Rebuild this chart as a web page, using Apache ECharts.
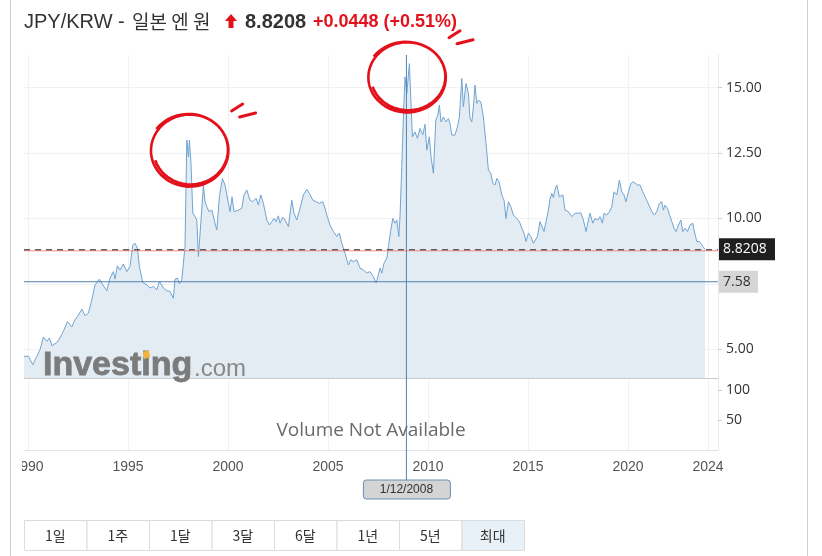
<!DOCTYPE html>
<html><head><meta charset="utf-8">
<script src="https://cdn.jsdelivr.net/npm/echarts@6/dist/echarts.min.js"></script>
<style>
html,body{margin:0;padding:0;background:#fff;width:822px;height:556px;overflow:hidden}
#frame{position:absolute;left:10px;top:0;width:798px;height:556px;border-left:1px solid #cfcfcf;border-right:1px solid #cfcfcf;box-sizing:border-box}
#chart{position:absolute;left:22px;top:0;width:785px;height:556px}
</style></head><body>
<div id="frame"></div><div id="chart"></div>
<script>
// ---- data (decimal years, JPY/KRW per 1 JPY) ----
const years = [
1989.80,1990.02,1990.24,1990.44,1990.60,1990.77,1990.94,
1991.07,1991.20,1991.44,1991.60,1991.80,1991.97,
1992.19,1992.35,1992.47,1992.57,1992.70,1992.85,
1993.02,1993.19,1993.35,1993.57,1993.74,1993.94,
1994.10,1994.27,1994.35,1994.47,1994.60,1994.77,1994.94,
1995.10,1995.24,1995.35,1995.47,1995.57,1995.74,1995.94,
1996.10,1996.27,1996.44,1996.57,1996.77,1996.94,
1997.10,1997.27,1997.35,1997.47,1997.57,1997.69,1997.77,1997.85,1997.94,
1998.02,1998.07,1998.15,1998.24,1998.35,1998.44,1998.52,1998.64,1998.77,1998.85,1998.94,
1999.05,1999.19,1999.35,1999.44,1999.57,1999.72,1999.85,
2000.02,2000.10,2000.20,2000.30,2000.52,2000.69,2000.80,2000.94,
2001.10,2001.24,2001.40,2001.52,2001.64,2001.77,2001.94,
2002.07,2002.19,2002.30,2002.40,2002.52,2002.60,2002.74,2002.85,
2003.02,2003.19,2003.30,2003.44,2003.60,2003.77,2003.94,
2004.07,2004.24,2004.40,2004.57,2004.74,2004.85,2004.94,
2005.10,2005.27,2005.44,2005.57,2005.69,2005.85,
2006.02,2006.14,2006.27,2006.44,2006.60,2006.77,2006.94,
2007.10,2007.27,2007.40,2007.52,2007.60,2007.69,2007.80,2007.94,
2008.02,2008.14,2008.24,2008.35,2008.44,2008.54,2008.60,2008.69,2008.77,2008.85,2008.94,
2009.07,2009.15,2009.22,2009.35,2009.47,2009.60,2009.74,2009.85,2009.94,
2010.07,2010.15,2010.27,2010.39,2010.49,2010.57,2010.65,2010.77,2010.90,
2011.02,2011.10,2011.19,2011.35,2011.47,2011.57,2011.69,2011.77,2011.90,
2012.02,2012.10,2012.19,2012.27,2012.35,2012.44,2012.52,2012.64,2012.77,2012.90,
2013.02,2013.14,2013.24,2013.35,2013.44,2013.55,2013.69,2013.80,2013.90,
2014.02,2014.14,2014.27,2014.44,2014.57,2014.69,2014.80,2014.90,
2015.02,2015.14,2015.27,2015.35,2015.47,2015.60,2015.69,2015.80,2015.90,
2016.02,2016.10,2016.19,2016.27,2016.35,2016.44,2016.57,2016.74,2016.85,
2017.02,2017.19,2017.35,2017.52,2017.64,2017.77,2017.90,
2018.02,2018.10,2018.24,2018.35,2018.49,2018.60,2018.72,2018.80,2018.94,
2019.07,2019.19,2019.30,2019.44,2019.57,2019.69,2019.80,2019.90,
2020.02,2020.14,2020.27,2020.35,2020.47,2020.60,2020.74,2020.85,2020.97,
2021.07,2021.19,2021.32,2021.44,2021.57,2021.69,2021.77,2021.85,2021.97,
2022.07,2022.19,2022.30,2022.40,2022.52,2022.64,2022.74,2022.85,2022.97,
2023.10,2023.24,2023.30,2023.44,2023.57,2023.69,2023.85
];
const rates = [
4.73,4.73,4.41,4.73,4.98,5.47,5.30,
5.43,5.13,5.26,5.43,5.74,6.06,
5.85,6.13,6.25,6.19,6.53,6.28,
6.38,6.89,7.46,7.68,7.46,7.24,
7.72,7.97,7.68,8.19,8.03,8.26,7.97,
8.16,8.99,9.05,8.86,8.16,7.55,7.46,
7.34,7.40,7.27,7.59,7.34,7.24,
7.21,6.95,7.68,7.72,7.50,7.65,8.29,8.92,13.00,
12.36,13.00,12.10,10.20,10.07,9.94,8.54,9.82,11.28,10.64,10.45,
10.26,10.32,9.82,9.56,10.83,11.53,11.28,
10.58,10.26,10.83,10.26,10.32,10.39,10.90,11.09,
10.70,10.64,10.77,10.52,10.90,10.58,9.94,
9.75,9.88,10.00,9.88,10.10,9.82,10.05,9.94,
9.69,10.70,10.20,9.94,10.39,10.90,11.11,
10.96,10.70,10.64,10.58,10.64,10.39,10.13,
9.75,9.50,9.31,9.44,9.05,8.67,
8.22,8.42,8.35,8.42,8.10,8.03,7.91,
7.97,7.78,7.53,7.84,8.10,7.91,8.29,8.48,
8.92,9.56,10.00,9.82,9.94,9.31,10.07,11.98,13.88,15.41,14.78,
15.92,14.40,13.12,13.31,13.06,13.44,13.20,13.60,12.61,
13.12,12.36,11.73,13.76,13.95,14.33,13.69,13.88,13.69,
13.82,13.63,13.19,13.19,13.50,13.88,15.35,14.27,15.16,
14.78,13.82,13.69,14.27,15.10,14.40,14.52,14.46,13.88,12.87,
11.85,11.73,11.34,11.28,11.53,11.40,10.90,10.70,10.00,
10.64,10.45,10.13,10.00,9.88,9.63,9.44,9.12,
9.44,9.31,9.05,8.99,9.31,9.88,9.94,9.50,9.56,
10.32,10.75,10.96,10.80,11.10,11.28,10.83,10.90,10.32,
10.26,10.07,10.20,10.20,10.22,9.94,9.50,
9.94,10.20,9.82,10.00,9.94,10.07,9.82,10.20,10.13,
10.26,10.45,11.02,10.90,11.47,11.02,10.90,10.64,
11.02,11.34,11.40,11.47,11.28,11.28,11.02,10.83,10.64,
10.64,10.26,10.13,10.26,10.58,10.64,10.32,10.51,10.39,
10.45,9.88,9.63,9.50,9.75,9.94,9.50,9.63,9.50,
9.75,9.82,9.56,9.12,9.12,8.99,8.8208
];
const lastValue = 8.8208;
const changeText = '+0.0448 (+0.51%)';
const titleText = 'JPY/KRW - ';
const titleKo = '일본 엔 원';
const crossYear = 2008.92, crossDate = '1/12/2008', crossValue = 7.58;
const yearTicks = [1990, 1995, 2000, 2005, 2010, 2015, 2020, 2024];
const priceTicks = [5, 7.5, 10, 12.5, 15];
const priceLabels = [5, 10, 12.5, 15];
const volumeTicks = [50, 100];
const rangeButtons = ['1일', '1주', '1달', '3달', '6달', '1년', '5년', '최대'];
const annotatedPeaks = [[1998.03, 12.58], [2008.90, 15.38]];

const AX_FONT = "'Open Sans', 'Noto Sans', sans-serif";
const SANS = "'Liberation Sans', Arial, 'Noto Sans CJK KR', sans-serif";
const KR = "'Noto Sans CJK KR', 'Liberation Sans', sans-serif";

const chart = echarts.init(document.getElementById('chart'), null, {renderer: 'canvas'});
const xMin = 1989.8, xMax = 2024.5, yMin = 3.9, yMax = 16.25;
const gridLine = {lineStyle: {color: '#eff1f3', width: 1}};

chart.setOption({
  animation: false,
  grid: [
    {left: 2, right: 89, top: 55, height: 323, containLabel: false, outerBoundsMode: 'none'},
    {left: 2, right: 89, top: 378, height: 72, containLabel: false, outerBoundsMode: 'none'}
  ],
  xAxis: [
    {type: 'value', gridIndex: 0, min: xMin, max: xMax,
     axisLine: {show: true, lineStyle: {color: '#c9c9c9'}},
     axisTick: {show: false, customValues: yearTicks},
     axisLabel: {show: false},
     splitLine: Object.assign({show: true}, gridLine)},
    {type: 'value', gridIndex: 1, min: xMin, max: xMax,
     axisLine: {show: true, lineStyle: {color: '#e1e4e8'}},
     axisTick: {show: false, customValues: yearTicks},
     axisLabel: {customValues: yearTicks, formatter: v => String(Math.round(v)),
                 color: '#555', fontSize: 14, margin: 10, fontFamily: SANS},
     splitLine: Object.assign({show: true}, gridLine)}
  ],
  yAxis: [
    {type: 'value', gridIndex: 0, position: 'right', min: yMin, max: yMax,
     axisLine: {show: true, lineStyle: {color: '#e6e8eb'}},
     axisTick: {show: true, length: 4, customValues: priceTicks, lineStyle: {color: '#cfcfcf'}},
     axisLabel: {customValues: priceLabels, formatter: v => v.toFixed(2),
                 color: '#333', fontSize: 14, margin: 8, fontFamily: AX_FONT},
     splitLine: Object.assign({show: true}, gridLine)},
    {type: 'value', gridIndex: 1, position: 'right', min: 0, max: 120,
     axisLine: {show: true, lineStyle: {color: '#e6e8eb'}},
     axisTick: {show: true, length: 4, customValues: volumeTicks, lineStyle: {color: '#cfcfcf'}},
     axisLabel: {customValues: volumeTicks, color: '#333', fontSize: 14, margin: 8, fontFamily: AX_FONT},
     splitLine: {show: false}}
  ],
  series: [{
    type: 'line', xAxisIndex: 0, yAxisIndex: 0,
    data: years.map((y, i) => [y, rates[i]]),
    symbol: 'none', smooth: false,
    lineStyle: {color: '#6fa3d1', width: 1},
    areaStyle: {color: '#e4ecf3', opacity: 1, origin: 'start'},
    markLine: {
      silent: true, symbol: 'none', label: {show: false}, animation: false,
      data: [{yAxis: lastValue, lineStyle: {color: '#2b2b2b', type: [6, 5], width: 1.5}}]
    }
  }]
});

const P = (x, y, g) => chart.convertToPixel({gridIndex: g || 0}, [x, y]);
const L = P(xMin, yMax)[0], R = P(xMax, yMax)[0], T = P(xMin, yMax)[1];
const yLast = P(2000, lastValue)[1];
const yCross = P(2000, crossValue)[1];
const xCross = P(crossYear, 10)[0];

const red = '#e3111b';
function scribble(cx, cy, rx, ry, turns, phase) {
  const pts = [];
  const n = 90;
  for (let i = 0; i <= n; i++) {
    const t = phase + (i / n) * Math.PI * 2 * turns;
    const k = 1 - 0.07 * (i / n);
    pts.push([cx + Math.cos(t) * rx * k + 2 * (i / n), cy + Math.sin(t) * ry * (k + 0.03) - 1.5 * (i / n)]);
  }
  return pts;
}
const g = [];
// header
g.push({type: 'text', x: 2, y: 22, style: {text: titleText, fontSize: 20, fontFamily: SANS, fill: '#333', verticalAlign: 'middle'}});
g.push({type: 'text', x: 110, y: 22, style: {text: titleKo, fontSize: 19, fontFamily: KR, fill: '#333', verticalAlign: 'middle'}});
g.push({type: 'polygon', shape: {points: [[209, 14], [215, 21], [211.5, 21], [211.5, 28], [206.5, 28], [206.5, 21], [203, 21]]}, style: {fill: red}});
g.push({type: 'text', x: 223, y: 22, style: {text: String(lastValue), fontSize: 20, fontWeight: 'bold', fontFamily: SANS, fill: '#333', verticalAlign: 'middle'}});
g.push({type: 'text', x: 291, y: 22, style: {text: changeText, fontSize: 18, fontWeight: 'bold', fontFamily: SANS, fill: red, verticalAlign: 'middle'}});
// watermark
g.push({type: 'text', x: 21, y: 366, z: 50, style: {text: 'Investing', fontSize: 34, fontWeight: 'bold', fontFamily: SANS, fill: '#7b7b7b', stroke: '#7b7b7b', lineWidth: 0.8, verticalAlign: 'middle'}});
g.push({type: 'polygon', z: 51, shape: {points: [[121, 352], [127, 350], [128, 357], [122, 359]]}, style: {fill: '#f2b440'}});
g.push({type: 'text', x: 172, y: 369, z: 50, style: {text: '.com', fontSize: 24, fontFamily: SANS, fill: '#888', verticalAlign: 'middle'}});
// volume text
g.push({type: 'text', x: 349, y: 431, z: 50, style: {text: 'Volume Not Available', fontSize: 19, fontFamily: AX_FONT, fill: '#6a6a6a', align: 'center', verticalAlign: 'middle'}});
// red line under last-price dashed line
g.push({type: 'line', z: 40, shape: {x1: L, y1: yLast + 1.5, x2: R, y2: yLast + 1.5}, style: {stroke: '#ee8a8a', lineWidth: 1}});
g.push({type: 'rect', z: 60, shape: {x: R + 1, y: yLast - 11, width: 56, height: 22}, style: {fill: '#1f1f1f'}});
g.push({type: 'text', z: 61, x: R + 5, y: yLast, style: {text: String(lastValue), fontSize: 14, fontFamily: AX_FONT, fill: '#fff', verticalAlign: 'middle'}});
// crosshair
g.push({type: 'line', z: 40, shape: {x1: L, y1: yCross, x2: R, y2: yCross}, style: {stroke: '#4f81b3', lineWidth: 1}});
g.push({type: 'line', z: 40, shape: {x1: xCross, y1: T, x2: xCross, y2: 480}, style: {stroke: '#4f81b3', lineWidth: 1}});
g.push({type: 'rect', z: 60, shape: {x: R + 1, y: yCross - 11, width: 39, height: 22}, style: {fill: '#d6d6d6'}});
g.push({type: 'text', z: 61, x: R + 5, y: yCross, style: {text: crossValue.toFixed(2), fontSize: 14, fontFamily: AX_FONT, fill: '#333', verticalAlign: 'middle'}});
g.push({type: 'rect', z: 60, shape: {x: xCross - 43, y: 480, width: 87, height: 19, r: 3}, style: {fill: '#d4d4d4', stroke: '#6b8fb5', lineWidth: 1}});
g.push({type: 'text', z: 61, x: xCross, y: 489.5, style: {text: crossDate, fontSize: 12, fontFamily: SANS, fill: '#333', align: 'center', verticalAlign: 'middle'}});
// red hand-drawn annotations
annotatedPeaks.forEach(([yr, v], idx) => {
  const [cx, cy] = P(yr, v);
  const rx = 40, ry = idx === 0 ? 36 : 35;
  g.push({type: 'polyline', z: 70, shape: {points: scribble(cx, cy, rx, ry, 1.85, 1.2 * Math.PI)}, style: {stroke: red, lineWidth: 2.6, fill: null}});
  g.push({type: 'line', z: 70, shape: {x1: cx + 43, y1: cy - 40, x2: cx + 54, y2: cy - 47}, style: {stroke: red, lineWidth: 3, lineCap: 'round'}});
  g.push({type: 'line', z: 70, shape: {x1: cx + 51, y1: cy - 34, x2: cx + 67, y2: cy - 38}, style: {stroke: red, lineWidth: 3, lineCap: 'round'}});
});
// range buttons
const bx0 = 2, bw = 62.5, by = 520, bh = 30;
rangeButtons.forEach((b, i) => {
  const last = i === rangeButtons.length - 1;
  g.push({type: 'rect', shape: {x: bx0 + i * bw + 0.5, y: by + 0.5, width: bw, height: bh}, style: {fill: last ? '#e9f1f8' : '#fff', stroke: '#dcdcdc', lineWidth: 1}});
  g.push({type: 'text', x: bx0 + i * bw + bw / 2, y: by + bh / 2 + 1, style: {text: b, fontSize: 14, fontFamily: KR, fill: '#333', align: 'center', verticalAlign: 'middle'}});
});
chart.setOption({graphic: g});
</script>
</body></html>
